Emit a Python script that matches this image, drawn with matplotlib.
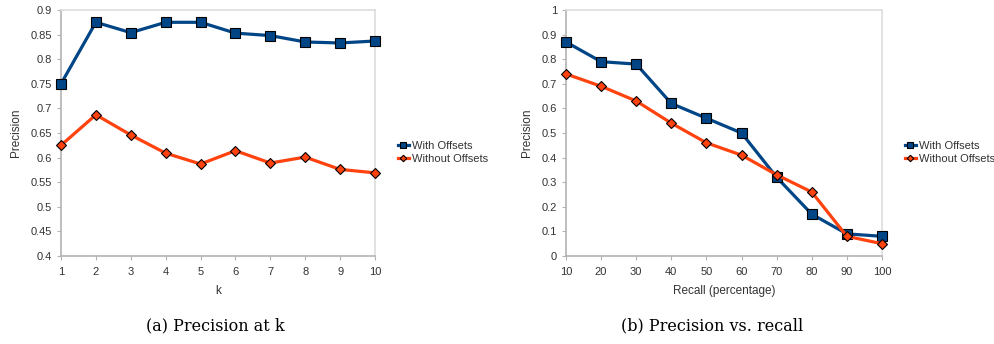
import matplotlib.pyplot as plt

# data
k = [1, 2, 3, 4, 5, 6, 7, 8, 9, 10]
prec_k_with = [0.75, 0.875, 0.854, 0.875, 0.875, 0.853, 0.848, 0.835, 0.833, 0.837]
prec_k_without = [0.625, 0.687, 0.646, 0.609, 0.587, 0.614, 0.589, 0.601, 0.576, 0.569]

recall = [10, 20, 30, 40, 50, 60, 70, 80, 90, 100]
prec_r_with = [0.87, 0.79, 0.78, 0.62, 0.56, 0.50, 0.32, 0.17, 0.09, 0.08]
prec_r_without = [0.74, 0.69, 0.63, 0.54, 0.46, 0.41, 0.33, 0.26, 0.08, 0.05]

blue = '#004586'
orange = '#ff420e'
W, H = 995, 344

plt.rcParams['font.family'] = ['Liberation Sans', 'DejaVu Sans']
fig = plt.figure(figsize=(W / 100, H / 100), dpi=100)


def fmt(v):
    return ('%.2f' % v).rstrip('0').rstrip('.')


def panel(x0, x1, xs, a, b, xlabel, ylim, yticks):
    ax = fig.add_axes([x0 / W, 1 - 256 / H, (x1 - x0) / W, 246 / H])
    ax.plot(xs, a, color=blue, lw=2.3, marker='s', ms=7.5, mfc=blue, mec='black', mew=0.8,
            label='With Offsets', zorder=3)
    ax.plot(xs, b, color=orange, lw=2.3, marker='D', ms=5.5, mfc=orange, mec='black', mew=0.8,
            label='Without Offsets', zorder=3)
    ax.set_xlim(xs[0], xs[-1])
    ax.set_ylim(*ylim)
    ax.set_xticks(xs)
    ax.set_yticks(yticks)
    ax.set_yticklabels([fmt(v) for v in yticks])
    ax.tick_params(labelsize=8, length=3, color='#b3b3b3', labelcolor='#333333')
    ax.tick_params(axis='x', pad=5)
    for s in ['top', 'right']:
        ax.spines[s].set_color('#dddddd')
    for s in ['left', 'bottom']:
        ax.spines[s].set_color('#b3b3b3')
    for s in ax.spines.values():
        s.set_linewidth(1.2)
    ax.set_xlabel(xlabel, fontsize=8.5, color='#333333', labelpad=6)
    ax.set_ylabel('Precision', fontsize=8.5, color='#333333', labelpad=6)
    leg = ax.legend(loc='center left', bbox_to_anchor=(1.055, 0.42), frameon=False, fontsize=8,
                    handlelength=1.0, handletextpad=0.25, labelspacing=0.3, markerscale=0.6,
                    borderpad=0)
    for t in leg.get_texts():
        t.set_color('#333333')
    for m in ax.lines:
        m.set_clip_on(False)
    return ax


panel(61, 375, k, prec_k_with, prec_k_without, 'k', (0.4, 0.9),
      [0.4 + 0.05 * i for i in range(11)])
panel(566, 882, recall, prec_r_with, prec_r_without, 'Recall (percentage)', (0, 1),
      [0.1 * i for i in range(11)])

fig.text(215 / W, 1 - 326 / H, '(a) Precision at k', ha='center', va='center',
         fontsize=11.5, family='DejaVu Serif')
fig.text(712 / W, 1 - 326 / H, '(b) Precision vs. recall', ha='center', va='center',
         fontsize=11.5, family='DejaVu Serif')

fig.savefig('out.png', dpi=100)
